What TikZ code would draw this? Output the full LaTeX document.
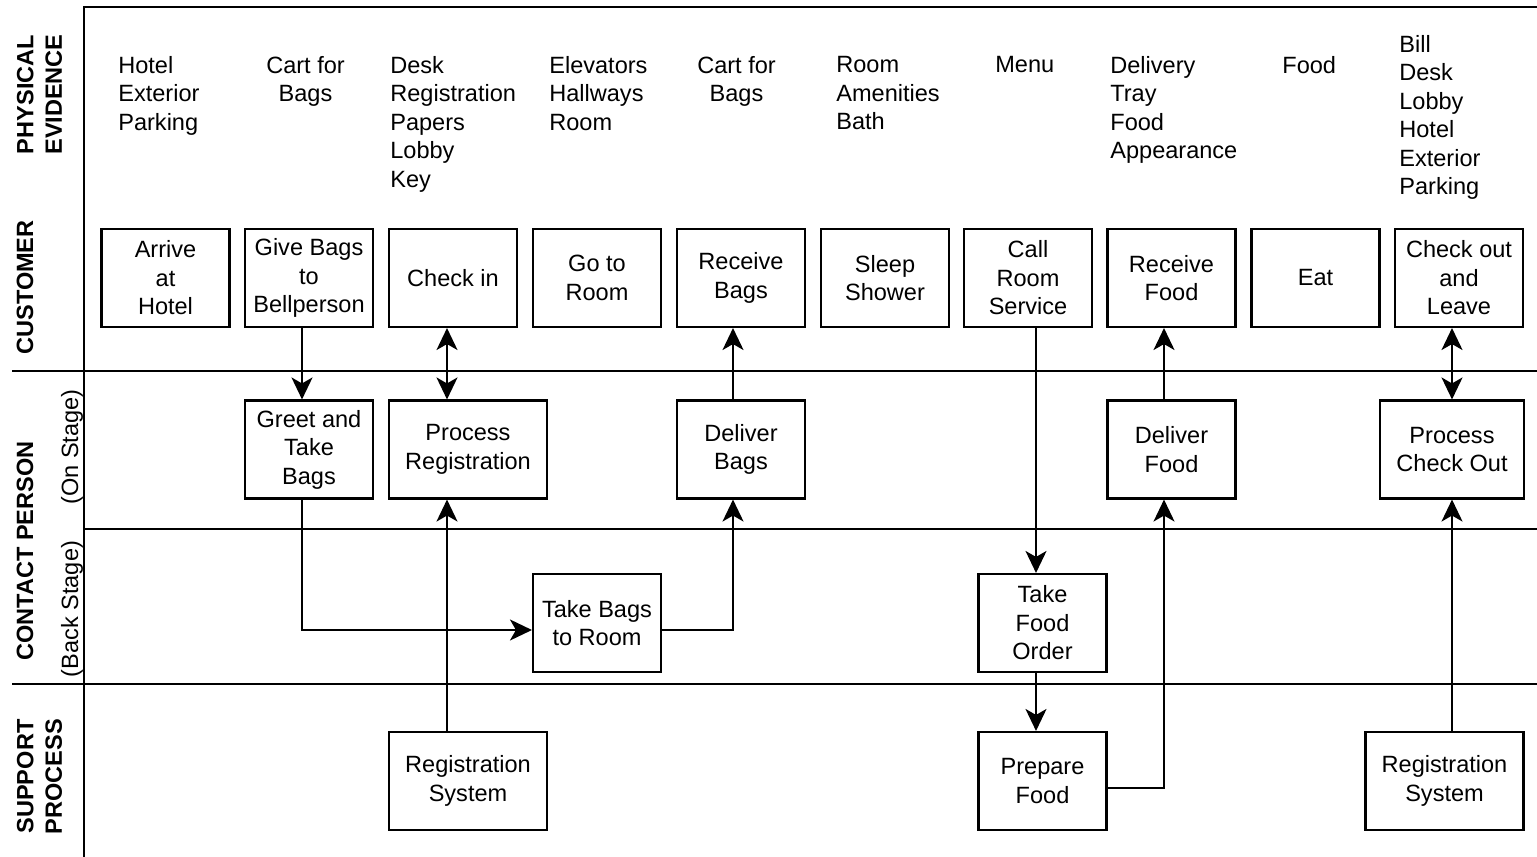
\documentclass[tikz,border=0pt]{standalone}
\usepackage{fontspec}
\setmainfont{Liberation Sans}
\usepackage{tikz}
\usetikzlibrary{positioning, arrows.meta, calc}
\definecolor{inkBlack}{HTML}{000000}
\newcommand{\bodyfont}{\fontsize{13.4}{16.2}\selectfont}
\tikzset{
  stepbox/.style={draw=inkBlack, line width=1.2pt, minimum width=2.56cm,
    minimum height=1.96cm, align=center, inner sep=1pt, font=\bodyfont},
  widebox/.style={stepbox, minimum width=3.16cm},
  evid/.style={font=\bodyfont, align=left, anchor=north west, inner sep=0pt},
  evidmid/.style={font=\bodyfont, align=center, anchor=north, inner sep=0pt},
  lanelabel/.style={rotate=90, font=\bodyfont\bfseries, align=center, inner sep=0pt},
  stagelabel/.style={rotate=90, font=\bodyfont, inner sep=0pt},
  lane/.style={draw=inkBlack, line width=1.2pt},
  flow/.style={-{Stealth[length=0.44cm, width=0.42cm, inset=0.12cm]}, line width=1.2pt},
  flowboth/.style={{Stealth[length=0.44cm, width=0.42cm, inset=0.12cm]}-{Stealth[length=0.44cm, width=0.42cm, inset=0.12cm]}, line width=1.2pt}
}

\begin{document}
\begin{tikzpicture}[x=0.02cm, y=-0.02cm]
    \useasboundingbox (0,0) rectangle (1537,857);
    % ---- swim lanes ----
    \draw[lane] (1537,7) -- (84,7) -- (84,857);
    \draw[lane] (12,371) -- (1537,371);
    \draw[lane] (84,529) -- (1537,529);
    \draw[lane] (12,684) -- (1537,684);
    \node[lanelabel] (lblphys) at (39.5,94.5) {PHYSICAL\\EVIDENCE};
    \node[lanelabel] (lblcust) at (25,287.5) {CUSTOMER};
    \node[lanelabel] (lblcontact) at (25,551) {CONTACT PERSON};
    \node[stagelabel] (lblon) at (72,447) {(On Stage)};
    \node[stagelabel] (lblback) at (72,609) {(Back Stage)};
    \node[lanelabel] (lblsupport) at (39.5,776.5) {SUPPORT\\PROCESS};
    % ---- physical evidence ----
    \node[evid] (evarrive) at (118,56) {Hotel\\Exterior\\Parking};
    \node[evidmid] (evcart) at (305.5,56) {Cart for\\Bags};
    \node[evid] (evdesk) at (390,56) {Desk\\Registration\\Papers\\Lobby\\Key};
    \node[evid] (evroom) at (549,56) {Elevators\\Hallways\\Room};
    \node[evidmid] (evcart2) at (736.5,56) {Cart for\\Bags};
    \node[evid] (evbath) at (836,56) {Room\\Amenities\\Bath};
    \node[evid] (evmenu) at (995,56) {Menu};
    \node[evid] (evtray) at (1110,56) {Delivery\\Tray\\Food\\Appearance};
    \node[evid] (evfood) at (1282,56) {Food};
    \node[evid] (evbill) at (1399,35) {Bill\\Desk\\Lobby\\Hotel\\Exterior\\Parking};
    % ---- customer actions ----
    \node[stepbox] (arrive) at (165.5,278) {Arrive\\at\\Hotel};
    \node[stepbox] (give) at (309,278) {Give Bags\\to\\Bellperson};
    \node[stepbox] (checkin) at (453,278) {Check in};
    \node[stepbox] (goroom) at (597,278) {Go to\\Room};
    \node[stepbox] (recbags) at (741,278) {Receive\\Bags};
    \node[stepbox] (sleep) at (885,278) {Sleep\\Shower};
    \node[stepbox] (callrs) at (1028,278) {Call\\Room\\Service};
    \node[stepbox] (recfood) at (1171.5,278) {Receive\\Food};
    \node[stepbox] (eat) at (1315.5,278) {Eat};
    \node[stepbox] (checkout) at (1459,278) {Check out\\and\\Leave};
    % ---- on stage ----
    \node[stepbox] (greet) at (309,449.5) {Greet and\\Take\\Bags};
    \node[widebox] (procreg) at (468,449.5) {Process\\Registration};
    \node[stepbox] (delbags) at (741,449.5) {Deliver\\Bags};
    \node[stepbox] (delfood) at (1171.5,449.5) {Deliver\\Food};
    \node[stepbox, minimum width=2.88cm] (proccheck) at (1452,449.5) {Process\\Check Out};
    % ---- back stage ----
    \node[stepbox] (tobags) at (597,623) {Take Bags\\to Room};
    \node[stepbox] (takeorder) at (1042.5,623) {Take\\Food\\Order};
    % ---- support ----
    \node[widebox] (regsys) at (468,781) {Registration\\System};
    \node[stepbox] (prepfood) at (1042.5,781) {Prepare\\Food};
    \node[widebox] (regsys2) at (1444.5,781) {Registration\\System};
    % ---- connectors ----
    \coordinate (xgive) at (302,630);
    \coordinate (xreg) at (447,0);
    \coordinate (xbag) at (733,630);
    \coordinate (xcall) at (1036,0);
    \coordinate (xfood) at (1164,788);
    \coordinate (xout) at (1452,0);
    \draw[flow] (give.south -| xgive) -- (greet.north -| xgive);
    \draw[flow] (greet.south -| xgive) |- (tobags.west |- xgive);
    \draw[flowboth] (checkin.south -| xreg) -- (procreg.north -| xreg);
    \draw[flow] (regsys.north -| xreg) -- (procreg.south -| xreg);
    \draw[flow] (tobags.east |- xbag) -| (delbags.south -| xbag);
    \draw[flow] (delbags.north -| xbag) -- (recbags.south -| xbag);
    \draw[flow] (callrs.south -| xcall) -- (takeorder.north -| xcall);
    \draw[flow] (takeorder.south -| xcall) -- (prepfood.north -| xcall);
    \draw[flow] (prepfood.east |- xfood) -| (delfood.south -| xfood);
    \draw[flow] (delfood.north -| xfood) -- (recfood.south -| xfood);
    \draw[flowboth] (checkout.south -| xout) -- (proccheck.north -| xout);
    \draw[flow] (regsys2.north -| xout) -- (proccheck.south -| xout);
\end{tikzpicture}
\end{document}
